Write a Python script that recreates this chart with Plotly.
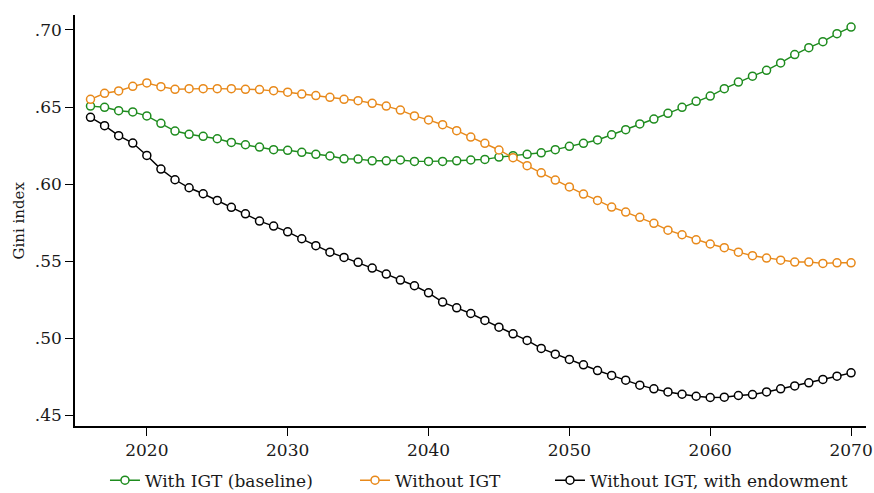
import plotly.graph_objects as go

years = list(range(2016, 2071))

with_igt = [0.6506, 0.6498, 0.6476, 0.6468, 0.6442, 0.6394, 0.6344, 0.6323, 0.6310, 0.6294,
            0.6270, 0.6255, 0.6240, 0.6223, 0.6219, 0.6206, 0.6193, 0.6182, 0.6164, 0.6162,
            0.6151, 0.6151, 0.6156, 0.6147, 0.6147, 0.6147, 0.6151, 0.6156, 0.6160, 0.6175,
            0.6184, 0.6193, 0.6203, 0.6223, 0.6245, 0.6264, 0.6286, 0.6320, 0.6353, 0.6390,
            0.6422, 0.6459, 0.6498, 0.6537, 0.6571, 0.6619, 0.6662, 0.6700, 0.6738, 0.6786,
            0.6840, 0.6885, 0.6924, 0.6976, 0.7019]

without_igt = [0.6550, 0.6589, 0.6604, 0.6634, 0.6656, 0.6632, 0.6615, 0.6619, 0.6619, 0.6619,
               0.6619, 0.6615, 0.6613, 0.6606, 0.6596, 0.6584, 0.6574, 0.6563, 0.6550, 0.6541,
               0.6524, 0.6506, 0.6480, 0.6442, 0.6416, 0.6385, 0.6346, 0.6305, 0.6264, 0.6221,
               0.6171, 0.6119, 0.6073, 0.6026, 0.5981, 0.5935, 0.5894, 0.5851, 0.5818, 0.5784,
               0.5745, 0.5701, 0.5671, 0.5638, 0.5611, 0.5587, 0.5558, 0.5535, 0.5520, 0.5506,
               0.5494, 0.5494, 0.5485, 0.5489, 0.5489]

with_endowment = [0.6433, 0.6379, 0.6314, 0.6266, 0.6186, 0.6097, 0.6028, 0.5976, 0.5937, 0.5894,
                  0.5849, 0.5807, 0.5760, 0.5727, 0.5690, 0.5645, 0.5600, 0.5558, 0.5524, 0.5492,
                  0.5455, 0.5416, 0.5377, 0.5340, 0.5294, 0.5234, 0.5197, 0.5160, 0.5115, 0.5071,
                  0.5028, 0.4985, 0.4933, 0.4896, 0.4862, 0.4827, 0.4790, 0.4758, 0.4727, 0.4695,
                  0.4671, 0.4651, 0.4636, 0.4623, 0.4615, 0.4617, 0.4628, 0.4634, 0.4651, 0.4671,
                  0.4690, 0.4710, 0.4732, 0.4753, 0.4775]

series_names = ["With IGT (baseline)", "Without IGT", "Without IGT, with endowment"]
series_colors = ["#1E8C1E", "#E8891A", "#000000"]
y_ticks = [0.45, 0.50, 0.55, 0.60, 0.65, 0.70]
y_tick_labels = [".45", ".50", ".55", ".60", ".65", ".70"]
x_ticks = [2020, 2030, 2040, 2050, 2060, 2070]
y_title = "Gini index"

FONT = "DejaVu Serif"
legend_ids = ["legend", "legend2", "legend3"]
legend_x = [0.0379, 0.354, 0.6005]

fig = go.Figure()
for name, vals, col, lg in zip(series_names, [with_igt, without_igt, with_endowment],
                               series_colors, legend_ids):
    fig.add_trace(go.Scatter(
        x=years, y=vals, mode="lines+markers", name=name, legend=lg,
        line=dict(color=col, width=1.4),
        marker=dict(symbol="circle", size=8, color="white", line=dict(color=col, width=1.5)),
    ))

legend_common = dict(orientation="h", xanchor="left", yref="container", y=0.025,
                     yanchor="middle", font=dict(family=FONT, size=17),
                     bgcolor="rgba(0,0,0,0)", itemwidth=30)

fig.update_layout(
    width=874, height=493,
    margin=dict(l=75, r=8, t=15, b=67),
    paper_bgcolor="white", plot_bgcolor="white",
    font=dict(family=FONT, size=17, color="#1a1a1a"),
    showlegend=True,
    legend=dict(x=legend_x[0], **legend_common),
    legend2=dict(x=legend_x[1], **legend_common),
    legend3=dict(x=legend_x[2], **legend_common),
    xaxis=dict(range=[2014.9, 2071.06], tickmode="array", tickvals=x_ticks,
               automargin=False,
               showgrid=False, zeroline=False, showline=True, linecolor="black", linewidth=1.5,
               ticks="outside", ticklen=8, tickwidth=1.3, tickcolor="black",
               tickfont=dict(family=FONT, size=17)),
    yaxis=dict(range=[0.443, 0.7097], tickmode="array", tickvals=y_ticks, ticktext=y_tick_labels,
               automargin=False,
               showgrid=False, zeroline=False, showline=True, linecolor="black", linewidth=1.5,
               ticks="outside", ticklen=8, tickwidth=1.3, tickcolor="black",
               tickfont=dict(family=FONT, size=17)),
    annotations=[dict(text=y_title, xref="paper", yref="paper", x=-0.072, y=0.5,
                      xanchor="center", yanchor="middle", textangle=-90, showarrow=False,
                      font=dict(family=FONT, size=15, color="#1a1a1a"))],
)

fig.write_html("out.html", config={"displayModeBar": False},
               post_script="document.body.style.margin='0';")
